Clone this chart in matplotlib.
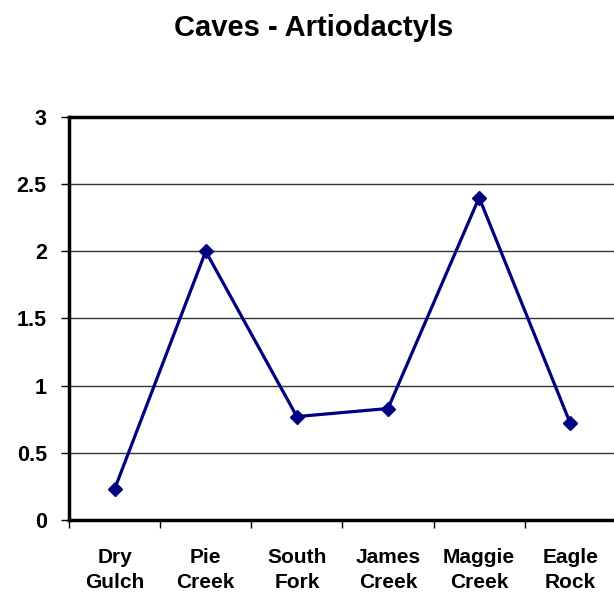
import matplotlib as mpl
import matplotlib.pyplot as plt
import numpy as np

mpl.rcParams["font.family"] = ["Liberation Sans", "DejaVu Sans"]
mpl.rcParams["font.weight"] = "bold"

sites = ["Dry\nGulch", "Pie\nCreek", "South\nFork", "James\nCreek", "Maggie\nCreek", "Eagle\nRock"]
values = [0.23, 2.0, 0.77, 0.83, 2.4, 0.72]
yticks = [0, 0.5, 1, 1.5, 2, 2.5, 3]
ytick_labels = ["0", "0.5", "1", "1.5", "2", "2.5", "3"]

fig = plt.figure(figsize=(6.14, 5.92), dpi=100)
ax = fig.add_axes([0.1124, 0.1216, 0.8906, 0.6808])

x = np.arange(len(sites))
ax.plot(x, values, color="#000080", lw=2.3, marker="D", ms=7, mfc="#000080", mec="#000080", zorder=3)

ax.set_xlim(-0.5, len(sites) - 0.5)
ax.set_ylim(0, 3)
ax.set_yticks(yticks)
ax.set_yticklabels(ytick_labels, fontsize=15.5, fontweight="bold")
ax.set_xticks(x)
ax.set_xticklabels(sites, fontsize=15, fontweight="bold", linespacing=1.4)
# category boundary ticks
ax.set_xticks(np.arange(-0.5, len(sites), 1), minor=True)
ax.tick_params(axis="x", which="major", length=0, pad=20)
ax.tick_params(axis="x", which="minor", length=6, width=1, direction="out")
ax.tick_params(axis="y", length=6, width=1, pad=10, direction="out")

ax.yaxis.grid(True, color="#333333", lw=1)
ax.set_axisbelow(True)
for side in ["left", "bottom", "top"]:
    ax.spines[side].set_linewidth(2.5)
ax.spines["right"].set_visible(False)

fig.text(0.511, 0.952, "Caves - Artiodactyls", ha="center", va="center", fontsize=21, fontweight="bold")

fig.savefig("out.png", dpi=100)
